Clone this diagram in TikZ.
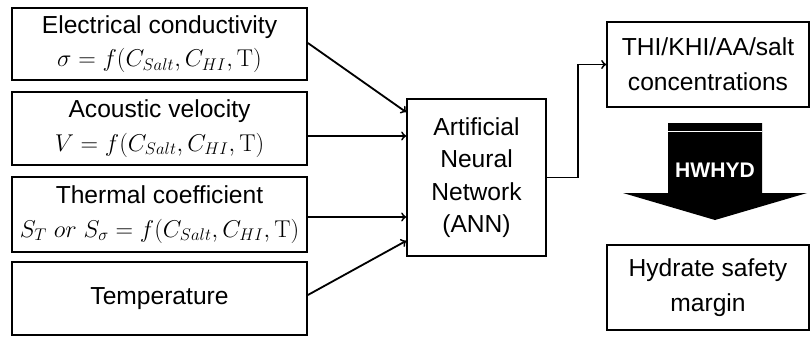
\documentclass[tikz,border=0pt]{standalone}
\usepackage[no-math]{fontspec}
\setmainfont{Liberation Sans}
\usetikzlibrary{calc}

\begin{document}
\begin{tikzpicture}[x=0.025cm,y=-0.025cm,
  inbox/.style={draw, line width=1.2pt, minimum width=7.375cm, minimum height=1.825cm, align=center, inner sep=0pt, font=\fontsize{17.5}{24}\selectfont},
  outbox/.style={draw, line width=1.2pt, minimum width=5.05cm, minimum height=2.125cm, align=center, inner sep=0pt, font=\fontsize{17.5}{25}\selectfont},
  link/.style={->, line width=1.3pt}]
\useasboundingbox (0,0) rectangle (812,337);
\node[inbox, minimum height=1.8cm] (cond) at (159.5,44) {Electrical conductivity\\ $\sigma = f(C_{Salt}, C_{HI}, \mathrm{T})$};
\node[inbox] (velo) at (159.5,128.5) {Acoustic velocity\\ $V = f(C_{Salt}, C_{HI}, \mathrm{T})$};
\node[inbox, minimum height=1.875cm] (therm) at (159.5,214.5) {Thermal coefficient\\ $S_T\ or\ S_\sigma = f(C_{Salt}, C_{HI}, \mathrm{T})$};
\node[inbox] (temp) at (159.5,298.5) {Temperature};
\node[draw, line width=1.2pt, minimum width=3.475cm, minimum height=3.925cm, align=center, font=\fontsize{17.5}{23}\selectfont] (ann) at (476.5,177.5) {Artificial\\ Neural\\ Network\\ (ANN)};
\node[outbox] (conc) at (708,64.5) {THI/KHI/AA/salt\\ concentrations};
\node[outbox] (margin) at (708,287.5) {Hydrate safety\\ margin};
\draw[link] ($(cond.east)+(0,-1)$) -- ($(ann.north west)+(0,14)$);
\draw[link] ($(velo.east)+(0,7.5)$) -- ($(velo.east -| ann.west)+(0,7.5)$);
\draw[link] ($(therm.east)+(0,2.5)$) -- ($(therm.east -| ann.west)+(0,2.5)$);
\draw[link] ($(temp.east)+(0,-3.5)$) -- ($(ann.south west)+(0,-16)$);
\draw[link] (ann.east) -- ++(31,0) |- (conc.west);
\fill (668,123) -- (762,123) -- (762,193) -- (807,193) -- (715,220) -- (623,193) -- (668,193) -- cycle;
\draw[white, line width=0.6pt] (668,131) -- (762,131);
\node[text=white, font=\fontsize{15}{17}\bfseries] (hwhyd) at (715,170) {HWHYD};
\end{tikzpicture}
\end{document}
